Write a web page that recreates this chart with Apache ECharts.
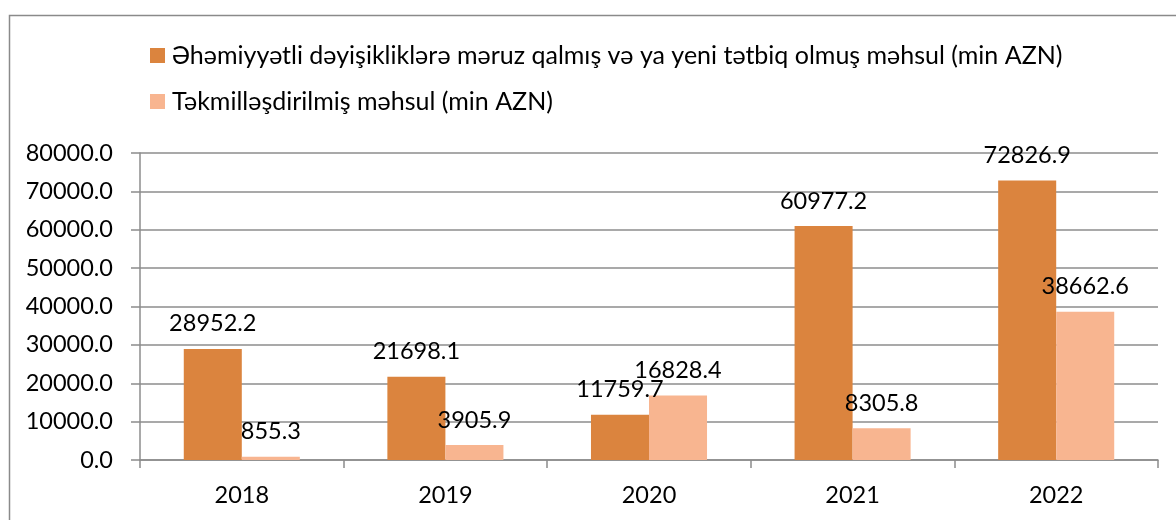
<!DOCTYPE html>
<html>
<head>
<meta charset="utf-8">
<script src="https://cdn.jsdelivr.net/npm/echarts@6/dist/echarts.min.js"></script>
<style>
  html, body { margin: 0; padding: 0; background: #fff; }
  #chart { width: 1176px; height: 520px; }
</style>
</head>
<body>
<div id="chart"></div>
<script>
// illər
const years = ['2018', '2019', '2020', '2021', '2022']
// əhəmiyyətli dəyişikliklərə məruz qalmış və ya yeni məhsul
const newProduct = [28952.2, 21698.1, 11759.7, 60977.2, 72826.9]
// təkmilləşdirilmiş məhsul
const improvedProduct = [855.3, 3905.9, 16828.4, 8305.8, 38662.6]
const seriesNames = [
  'Əhəmiyyətli dəyişikliklərə məruz qalmış və ya yeni tətbiq olmuş məhsul (min AZN)',
  'Təkmilləşdirilmiş məhsul (min AZN)'
]

const font = 'Lato, "Noto Sans", sans-serif'
const chart = echarts.init(document.getElementById('chart'))

const barLabel = {
  show: true,
  position: 'top',
  distance: 13,
  color: '#000',
  fontFamily: font,
  fontSize: 23.5,
  formatter: p => p.value.toFixed(1)
}

chart.setOption({
  animation: false,
  textStyle: { fontFamily: font },
  // çərçivə
  graphic: [{
    type: 'rect',
    shape: { x: 9.5, y: 15.5, width: 1200, height: 600 },
    style: { fill: 'none', stroke: '#8a8a8a', lineWidth: 1.5 },
    silent: true
  }],
  legend: {
    orient: 'vertical',
    left: 150,
    top: 43,
    padding: 0,
    itemWidth: 15,
    itemHeight: 15,
    itemGap: 21,
    icon: 'rect',
    textStyle: { color: '#000', fontSize: 25, fontFamily: font, padding: [0, 0, 0, 2] }
  },
  grid: { left: 140, right: 18, top: 153, bottom: 60 },
  xAxis: {
    type: 'category',
    data: years,
    axisLine: { lineStyle: { color: '#8c8c8c', width: 1.5 } },
    axisTick: { show: true, length: 8, lineStyle: { color: '#8c8c8c', width: 1.5 } },
    axisLabel: { color: '#000', fontSize: 23.5, fontFamily: font, margin: 23 }
  },
  yAxis: {
    type: 'value',
    min: 0,
    max: 80000,
    interval: 10000,
    axisLine: { show: true, lineStyle: { color: '#8c8c8c', width: 1.5 } },
    axisTick: { show: true, length: 9, lineStyle: { color: '#8c8c8c', width: 1.5 } },
    splitLine: { lineStyle: { color: '#8c8c8c', width: 1.5 } },
    axisLabel: {
      color: '#000',
      fontSize: 23.5,
      fontFamily: font,
      margin: 27,
      formatter: v => v.toFixed(1)
    }
  },
  series: [
    {
      name: seriesNames[0],
      type: 'bar',
      data: newProduct,
      itemStyle: { color: '#DB843E' },
      barGap: '0%',
      barCategoryGap: '43%',
      label: barLabel
    },
    {
      name: seriesNames[1],
      type: 'bar',
      data: improvedProduct,
      itemStyle: { color: '#F8B590' },
      label: barLabel
    }
  ]
})
</script>
</body>
</html>
